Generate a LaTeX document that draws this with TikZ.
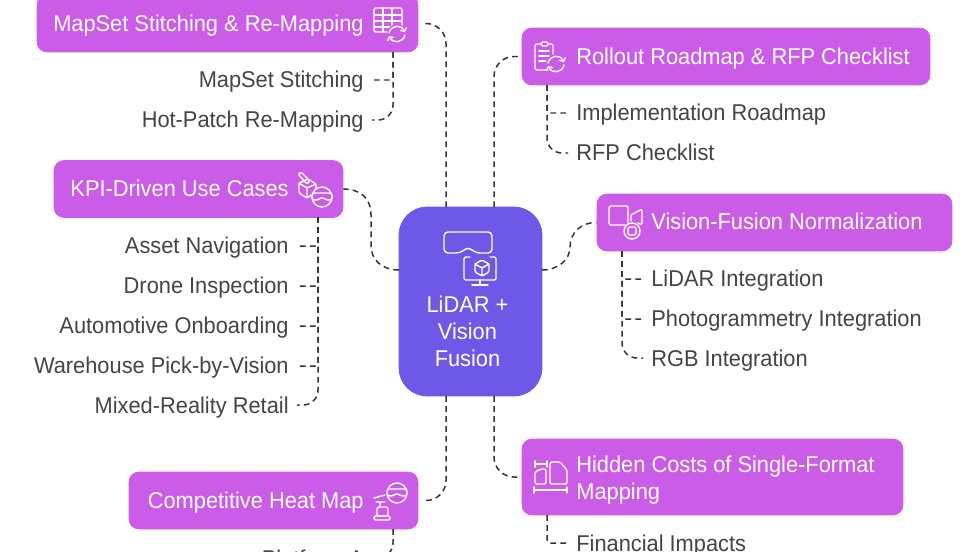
\documentclass[tikz,border=0pt]{standalone}
\usepackage{fontspec}
\setmainfont{Liberation Sans}[FakeStretch=0.955]
\usetikzlibrary{arrows.meta}
\definecolor{branchfill}{HTML}{CB5CE8}
\definecolor{rootfill}{HTML}{6E58E8}
\definecolor{leafgray}{HTML}{444444}
\definecolor{linkgray}{HTML}{333333}
\tikzset{
	branch/.style={fill=branchfill, draw=branchfill, rounded corners=0.2cm, inner sep=0pt, minimum height=1.14cm},
	rootbox/.style={fill=rootfill, draw=rootfill, rounded corners=0.56cm, inner sep=0pt, minimum width=2.86cm, minimum height=3.78cm},
	boxtext/.style={text=white, inner sep=0pt, font=\fontsize{13}{15.4}\selectfont, align=left},
	oneline/.style={text height=11.5pt, text depth=2.4pt},
	leafl/.style={oneline, text=leafgray, anchor=east, inner xsep=0.16cm, inner ysep=0pt, font=\fontsize{13}{15.4}\selectfont},
	leafr/.style={oneline, text=leafgray, anchor=west, inner xsep=0.16cm, inner ysep=0pt, font=\fontsize{13}{15.4}\selectfont},
	link/.style={draw=linkgray, line width=0.85pt, dash pattern=on 0.115cm off 0.085cm, rounded corners=0.4cm},
	sublink/.style={draw=linkgray, line width=0.85pt, dash pattern=on 0.115cm off 0.085cm, rounded corners=0.06cm},
	lastlink/.style={draw=linkgray, line width=0.85pt, dash pattern=on 0.115cm off 0.085cm, rounded corners=0.3cm},
	icon/.style={draw=white, line width=0.8pt, rounded corners=0.03cm, line cap=round, line join=round},
	refresh/.pic={
		\draw[icon, -{Straight Barb[length=1.5pt,width=4pt]}] (-8,-1) .. controls (-6,-9) and (4,-10) .. (8,-2);
		\draw[icon, -{Straight Barb[length=1.5pt,width=4pt]}] (8,1) .. controls (6,9) and (-4,10) .. (-8,2);
	},
	goggles/.pic={
		\draw[icon] (0,0) circle[radius=10];
		\fill[branchfill] (-10,-4) rectangle (10,3);
		\draw[icon, rounded corners=0.05cm] (-10,-4) -- (10,-4) -- (10,3) -- (4,3) -- (0,0) -- (-4,3) -- (-10,3) -- cycle;
	}
}
\begin{document}
\begin{tikzpicture}[x=0.02cm, y=-0.02cm]
	\useasboundingbox (0,0) rectangle (980,551);
	\clip (0,0) rectangle (980,551);
	% centre and the six branches
	\node[rootbox] (root) at (470.5,301.5) {};
	\node[branch, minimum width=7.62cm] (mapset) at (227.5,23.5) {};
	\node[branch, minimum width=8.16cm] (rollout) at (726,56.5) {};
	\node[branch, minimum width=5.78cm] (kpi) at (198.5,189) {};
	\node[branch, minimum width=7.1cm] (vision) at (774.5,222.5) {};
	\node[branch, minimum width=5.78cm] (heatmap) at (273.5,500.5) {};
	\node[branch, minimum width=7.62cm, minimum height=1.52cm] (costs) at (712.5,477) {};
	% texts
	\node[boxtext, align=center] (rootT) at (467.5,331.5) {LiDAR +\\Vision\\Fusion};
	\node[boxtext, oneline, anchor=east] (mapsetT) at (364,24) {MapSet Stitching \& Re-Mapping};
	\node[boxtext, oneline, anchor=west] (rolloutT) at (576,57) {Rollout Roadmap \& RFP Checklist};
	\node[boxtext, oneline, anchor=east] (kpiT) at (289,189) {KPI-Driven Use Cases};
	\node[boxtext, oneline, anchor=west] (visionT) at (651,222) {Vision-Fusion Normalization};
	\node[boxtext, oneline, anchor=east] (heatmapT) at (364,500) {Competitive Heat Map};
	\node[boxtext, anchor=west] (costsT) at (576,480) {Hidden Costs of Single-Format\\Mapping};
	% leaves
	\node[leafl] (stitch) at (372,80) {MapSet Stitching};
	\node[leafl] (hotpatch) at (372,120) {Hot-Patch Re-Mapping};
	\node[leafr] (roadmap) at (568,113) {Implementation Roadmap};
	\node[leafr] (rfp) at (568,153) {RFP Checklist};
	\node[leafl] (asset) at (297,246) {Asset Navigation};
	\node[leafl] (drone) at (297,286) {Drone Inspection};
	\node[leafl] (auto) at (297,326) {Automotive Onboarding};
	\node[leafl] (warehouse) at (297,366) {Warehouse Pick-by-Vision};
	\node[leafl] (retail) at (297,405) {Mixed-Reality Retail};
	\node[leafr] (lidar) at (643,279) {LiDAR Integration};
	\node[leafr] (photo) at (643,319) {Photogrammetry Integration};
	\node[leafr] (rgb) at (643,358) {RGB Integration};
	\node[leafl] (platform) at (372,558) {Platform A};
	\node[leafr] (financial) at (568,543) {Financial Impacts};
	% attachment points
	\coordinate (rootNW) at (446,207);
	\coordinate (rootNE) at (494,207);
	\coordinate (rootSW) at (446,396);
	\coordinate (rootSE) at (494,396);
	\coordinate (rootW) at (399,270);
	\coordinate (rootE) at (542,270);
	\coordinate (mapsetS) at (393,52);
	\coordinate (rolloutS) at (547,85);
	\coordinate (kpiS) at (318,217);
	\coordinate (visionS) at (622,251);
	\coordinate (heatmapS) at (393,529);
	\coordinate (costsS) at (547,515);
	% links from the centre
	\draw[link, shorten >=0.14cm] (rootNW) |- (mapset.east);
	\draw[link] (rootNE) |- (rollout.west);
	\draw[link, sharp corners] (rootW) .. controls (382,270) and (371,260) .. (371,245) -- (371,215) .. controls (371,198) and (360,189) .. (kpi.east);
	\draw[link, sharp corners] (rootE) .. controls (558,270) and (570,260) .. (570,247) .. controls (570,233) and (581,222) .. (vision.west);
	\draw[link, shorten >=0.14cm] (rootSW) |- (heatmap.east);
	\draw[link] (rootSE) |- (costs.west);
	% links to the leaves
	\draw[sublink] (mapsetS) |- (stitch.east);
	\draw[lastlink] (mapsetS) |- (hotpatch.east);
	\draw[sublink] (rolloutS) |- (roadmap.west);
	\draw[lastlink] (rolloutS) |- (rfp.west);
	\draw[sublink] (kpiS) |- (asset.east);
	\draw[sublink] (kpiS) |- (drone.east);
	\draw[sublink] (kpiS) |- (auto.east);
	\draw[sublink] (kpiS) |- (warehouse.east);
	\draw[lastlink] (kpiS) |- (retail.east);
	\draw[sublink] (visionS) |- (lidar.west);
	\draw[sublink] (visionS) |- (photo.west);
	\draw[lastlink] (visionS) |- (rgb.west);
	\draw[lastlink] (heatmapS) |- (platform.east);
	\draw[sublink] (costsS) |- (financial.west);
	% icon in the centre
	\draw[icon, rounded corners=0.08cm] (444,232) -- (492,232) -- (492,253) -- (476,253) -- (468,247) -- (460,253) -- (444,253) -- cycle;
	\draw[icon] (470,257) -- (464,257) -- (464,280) -- (496,280) -- (496,257) -- (490,257);
	\draw[icon] (480,280) -- (480,285) (472,285) -- (488,285);
	\draw[icon] (482,260) -- (489,264) -- (489,272) -- (482,276) -- (475,272) -- (475,264) -- cycle (475,264) -- (482,268) -- (489,264) (482,268) -- (482,276);
	% icon of MapSet
	\draw[icon] (374,8) rectangle (402,32);
	\draw[icon] (374,15) -- (402,15) (374,21) -- (402,21) (374,27) -- (390,27) (383,8) -- (383,32) (392,8) -- (392,26);
	\fill[branchfill] (397,34) circle[radius=10];
	\pic at (397,34) {refresh};
	% icon of the use cases
	\draw[icon] (299,183) -- (308,179) -- (316,184) -- (316,192) -- (307,198) -- (299,193) -- cycle (299,183) -- (307,188) -- (316,184) (307,188) -- (307,198);
	\draw[icon] (298,174) -- (301,172) -- (310,181) -- (307,184) -- cycle;
	\fill[branchfill] (322,197) circle[radius=11];
	\pic at (322,197) {goggles};
	% icon of the rollout
	\draw[icon] (541,44) -- (535,44) -- (535,70) -- (549,70) (553,58) -- (553,44) -- (548,44);
	\draw[icon] (541,46) -- (541,42) -- (548,42) -- (548,46) -- cycle;
	\draw[icon] (539,51) -- (549,51) (539,56) -- (549,56) (539,61) -- (546,61);
	\fill[branchfill] (556,64) circle[radius=10];
	\pic at (556,64) {refresh};
	% icon of the vision box
	\draw[icon] (609,206) rectangle (628,225);
	\draw[icon] (631,215) -- (642,209) -- (642,225) -- (638,223) (631,215) -- (631,221);
	\fill[branchfill] (632,231) circle[radius=9];
	\draw[icon] (632,231) circle[radius=8];
	\draw[icon] (628,227) rectangle (636,235);
	% icon of the heat map
	\draw[icon] (374,498) -- (385,495) (376,502) -- (385,502) (380,502) -- (380,507);
	\draw[icon] (377,507) rectangle (388,516);
	\draw[icon] (374,516) -- (390,516) -- (390,520) -- (374,520) -- cycle;
	\fill[branchfill] (397,493) circle[radius=12];
	\pic at (397,493) {goggles};
	% icon of the costs
	\draw[icon] (535,461) -- (535,467) (547,461) -- (547,467) (535,464) -- (547,464);
	\draw[icon] (535,472) -- (541,469) -- (546,469) -- (546,484) -- (535,484) -- cycle;
	\draw[icon] (550,462) -- (560,462) -- (567,470) -- (567,484) -- (550,484) -- cycle;
	\draw[icon] (534,487) -- (534,493) (567,487) -- (567,493) (534,490) -- (567,490);
\end{tikzpicture}
\end{document}
